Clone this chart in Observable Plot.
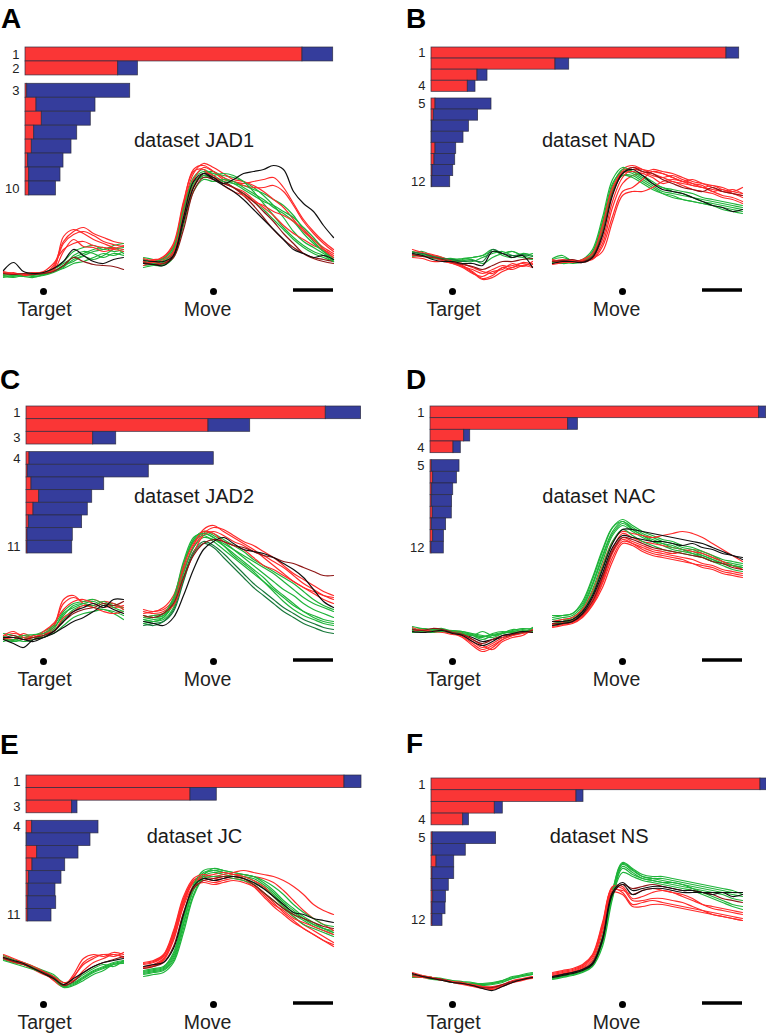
<!DOCTYPE html>
<html><head><meta charset="utf-8">
<script src="https://cdn.jsdelivr.net/npm/d3@7"></script>
<script src="https://cdn.jsdelivr.net/npm/@observablehq/plot@0.6"></script>
<style>
body{margin:0;background:#fff;}
#fig{position:relative;width:766px;height:1034px;overflow:hidden;font-family:"Liberation Sans",Arial,Helvetica,sans-serif;}
</style></head><body><div id="fig"></div>
<script>
// ---------- time grid (ms) ----------
const TARGET_T = [-200,-150,-100,-50,0,50,100,150,200,250,300,350,400];
const MOVE_T = [-350,-300,-250,-200,-150,-100,-50,0,50,100,150,200,250,300,350,400,450,500,550,600];
const EVENTS = ["Target","Move"];
const SCALEBAR_MS = [400, 600]; // 200 ms, in Move-aligned time
const GAP_MS = 100;

// ---------- panel names ----------
const LETTERS = ["A","B","C","D","E","F"];
const DATASETS = ["dataset JAD1","dataset NAD","dataset JAD2","dataset NAC","dataset JC","dataset NS"];

// ---------- variance per dimension (a.u.) : red = movement, blue = preparatory ----------
const A_red  = [277, 92.7, 1.7, 11, 16.3, 8.7, 6.3, 2.7, 3.7, 3.7];
const A_blue = [30.7, 19.7, 103, 59, 49, 43, 39.7, 35.3, 31.3, 26.7];
const B_red  = [295, 124, 46, 36.3, 4, 2.3, 0.7, 0.3, 4, 3, 1, 0.7];
const B_blue = [12.7, 13.7, 10, 7.7, 56, 44.3, 36.7, 31.7, 20.7, 20.7, 20.7, 18];
const C_red  = [299.3, 182, 66.7, 3, 1.3, 5, 12.7, 7, 2.3, 1, 1];
const C_blue = [35.3, 41.7, 23, 184.3, 121, 72.7, 53, 54.3, 53.3, 45.3, 44.7];
const D_red  = [328.7, 137.7, 33.7, 23, 1.3, 2.7, 1.7, 1.3, 2.3, 1.3, 2.7, 1];
const D_blue = [7, 9.7, 6, 7.3, 27.7, 23.7, 21, 20.3, 19, 14.3, 10.7, 12.3];
const E_red  = [318, 164, 45.7, 5.7, 0.3, 10.7, 6, 2.7, 2, 1.7, 1.7];
const E_blue = [17, 26.3, 5.3, 66.3, 63.7, 41.3, 32.7, 32.3, 27, 28, 23.3];
const F_red  = [329, 145, 63.3, 31.7, 1.3, 1.3, 5, 1, 1, 1.7, 1, 1];
const F_blue = [6.3, 7, 8, 5.7, 63.3, 33, 17.7, 21.7, 16.3, 12.7, 13, 10];
const N_MOVE_DIMS = [2, 4, 3, 4, 3, 4];

// ---------- projections (a.u.), colour key + values at TARGET_T / MOVE_T ----------
const A_target = [
 ["r","16 18 17 19 18 26 50 60 64 58 54 50 48"],
 ["g","19 18 16 18 19 23 30 40 44 46 42 46 48"],
 ["g","14 16 15 14 17 20 25 32 36 40 42 44 38"],
 ["g","16 15 17 16 18 22 28 34 38 42 44 40 42"],
 ["r","20 18 17 18 19 22 55 62 58 52 48 44 42"],
 ["g","18 17 15 17 17 20 26 30 35 32 36 42 44"],
 ["r","19 17 18 19 18 24 48 57 60 56 50 47 45"],
 ["g","15 14 16 15 16 19 24 36 40 38 34 38 36"],
 ["r","17 19 16 18 20 28 42 48 50 46 44 43 46"],
 ["g","17 16 17 18 17 21 23 28 30 34 38 36 40"],
 ["r","18 18 17 17 19 21 40 52 45 44 40 42 40"],
 ["R","18 17 18 17 18 20 26 34 30 27 26 25 22"],
 ["k","21 29 20 18 19 23 30 42 36 30 28 32 34"]];
const A_move = [
 ["r","32 30 34 46 88 122 126 120 112 110 108 110 112 114 104 88 72 60 50 42"],
 ["g","28 30 27 40 78 108 118 120 114 108 106 102 98 92 86 76 62 50 40 32"],
 ["g","34 32 30 42 84 114 122 116 110 104 98 90 82 72 62 52 44 38 34 30"],
 ["R","30 28 29 38 72 104 116 114 110 104 96 86 74 62 52 44 38 34 32 30"],
 ["g","30 28 31 42 80 112 120 118 116 114 110 104 96 86 74 60 50 44 38 32"],
 ["r","30 32 33 45 85 118 128 124 118 112 110 106 100 92 84 72 60 52 44 38"],
 ["g","26 27 29 36 72 106 116 112 110 108 102 96 90 86 80 74 64 54 42 30"],
 ["r","28 30 32 40 78 112 124 120 114 110 106 104 104 106 100 86 70 58 48 40"],
 ["g","32 30 33 44 82 110 114 116 118 116 110 100 88 76 64 54 46 40 36 30"],
 ["r","33 31 35 48 90 120 122 112 108 104 100 92 84 76 66 58 52 46 42 36"],
 ["g","24 26 26 34 66 100 112 110 112 110 104 98 92 84 78 70 58 48 40 34"],
 ["r","26 29 28 38 70 105 118 116 106 100 96 90 86 80 76 70 62 52 42 34"],
 ["R","29 27 28 34 62 100 114 112 108 104 98 90 80 70 58 48 38 33 30 28"],
 ["k","28 27 26 36 74 110 118 112 106 100 92 82 72 62 52 42 38 34 36 32"],
 ["k","31 30 30 36 70 104 118 114 108 112 118 120 122 126 122 100 88 80 66 54"]];
const B_target = [
 ["r","38 36 35 32 29 25 19 12 14 20 24 26 24"],
 ["g","36 38 35 33 32 33 34 36 40 38 40 36 33"],
 ["g","38 40 36 34 31 32 34 36 42 36 34 38 36"],
 ["r","40 38 36 33 30 26 20 13 16 24 26 28 25"],
 ["g","35 36 33 32 30 30 30 34 38 40 36 34 32"],
 ["r","36 35 34 31 28 24 18 15 20 22 28 25 30"],
 ["g","40 37 35 33 33 31 32 28 34 38 40 36 38"],
 ["r","42 39 37 34 30 28 24 20 18 24 22 26 28"],
 ["G","39 38 35 33 32 30 31 30 42 38 36 37 35"],
 ["r","34 33 30 30 28 25 22 18 22 26 24 29 27"],
 ["R","37 35 34 32 29 27 25 22 26 30 30 32 33"],
 ["k","38 36 32 30 30 28 28 26 40 38 34 36 24"]];
const B_move = [
 ["r","29 31 30 29 33 48 84 108 116 118 122 120 118 114 110 108 106 104 100 98"],
 ["g","31 30 29 32 38 64 102 116 116 110 104 98 94 92 90 88 86 82 80 78"],
 ["r","30 28 31 30 36 62 102 122 126 122 118 114 110 108 106 104 102 100 98 94"],
 ["g","32 34 31 30 39 68 106 122 120 116 110 104 102 100 98 94 92 90 88 86"],
 ["g","33 36 30 31 40 70 108 120 118 112 106 100 98 96 94 92 90 88 86 84"],
 ["r","30 32 30 31 36 60 100 120 124 122 120 118 114 110 108 104 106 102 100 104"],
 ["g","29 31 28 30 36 60 100 116 114 108 102 98 96 92 90 88 86 84 82 80"],
 ["r","28 30 31 30 34 52 90 114 122 120 116 114 116 112 108 106 100 102 98 96"],
 ["g","30 28 29 32 42 74 112 124 120 114 108 104 100 98 94 90 88 86 84 82"],
 ["r","32 30 29 31 32 45 75 100 104 112 120 118 114 110 112 108 104 100 102 98"],
 ["r","27 29 31 30 33 40 70 96 100 100 104 110 112 110 106 104 100 96 94 90"],
 ["r","31 29 30 32 38 66 104 118 120 118 114 108 110 106 102 100 98 94 92 88"],
 ["R","30 31 32 30 35 58 98 118 124 120 118 112 108 104 102 100 104 100 98 96"],
 ["k","28 30 30 29 34 56 96 118 122 116 108 102 100 98 94 90 86 84 80 82"]];
const C_target = [
 ["r","25 28 26 24 28 36 58 64 60 62 58 54 56"],
 ["g","23 21 24 22 26 32 48 54 58 60 56 58 52"],
 ["g","28 26 24 26 30 36 50 58 60 62 58 56 54"],
 ["r","26 30 24 22 26 34 62 66 58 56 60 58 54"],
 ["g","22 20 22 24 24 30 42 52 56 54 52 50 46"],
 ["r","24 22 28 24 30 38 52 60 62 58 54 56 52"],
 ["g","20 22 20 22 26 28 36 44 48 50 52 48 42"],
 ["r","22 24 22 26 28 30 44 50 56 54 50 48 50"],
 ["g","25 24 26 27 28 34 46 56 58 56 60 54 50"],
 ["R","23 26 22 24 26 30 40 48 52 54 58 56 60"],
 ["k","24 24 22 20 24 28 34 40 44 50 56 52 48"],
 ["k","22 18 14 22 24 30 40 50 54 58 54 62 62"]];
const C_move = [
 ["r","50 48 50 60 90 114 128 134 132 126 120 116 110 104 96 88 82 76 70 66"],
 ["g","42 40 44 58 94 120 128 124 116 106 98 90 80 70 60 52 46 42 38 36"],
 ["g","46 44 46 60 96 122 130 128 122 116 110 102 96 90 84 78 70 62 56 52"],
 ["G","38 36 40 52 84 110 120 116 108 98 88 78 70 62 54 48 42 38 34 32"],
 ["g","40 42 44 60 96 122 130 126 120 112 104 96 88 80 72 66 58 52 48 44"],
 ["r","48 50 52 62 92 116 132 136 130 124 118 112 104 96 88 80 74 68 62 58"],
 ["g","38 40 42 54 88 114 124 122 116 108 100 92 84 74 66 58 50 46 42 40"],
 ["r","44 46 48 56 82 108 126 130 126 120 116 110 106 100 94 86 78 72 66 62"],
 ["g","42 44 46 62 98 120 126 120 112 104 96 88 80 72 64 56 50 44 40 38"],
 ["r","52 50 54 66 96 118 130 128 120 116 112 104 96 92 86 80 74 70 66 64"],
 ["g","44 46 48 64 100 124 128 124 118 112 106 100 94 88 80 72 64 58 54 50"],
 ["G","36 38 40 50 80 108 118 114 104 94 84 74 66 58 50 44 38 34 30 28"],
 ["R","46 44 48 58 84 106 118 122 120 116 114 110 106 104 100 98 94 90 86 86"],
 ["k","40 38 36 44 66 92 112 120 124 118 112 110 108 104 98 92 84 72 60 54"]];
const D_target = [
 ["r","31 33 31 30 29 25 18 12 16 22 26 29 31"],
 ["g","32 30 31 31 31 29 27 25 27 29 31 33 32"],
 ["k","29 30 31 30 29 27 24 20 22 24 27 30 30"],
 ["g","33 31 32 33 30 30 26 22 26 28 30 32 33"],
 ["r","32 30 31 30 28 24 16 10 14 22 26 28 30"],
 ["g","29 30 29 30 29 28 26 24 28 30 29 30 31"],
 ["r","30 32 30 29 27 26 20 14 18 24 28 30 29"],
 ["g","31 33 31 30 31 30 28 26 24 28 32 31 30"],
 ["r","34 31 32 31 30 28 22 16 12 20 24 26 32"],
 ["g","35 33 32 32 30 28 26 30 26 28 30 29 34"],
 ["R","32 31 33 32 29 27 22 18 22 26 27 29 31"],
 ["k","30 29 30 31 28 26 20 16 20 26 28 30 29"]];
const D_move = [
 ["g","40 42 44 54 76 104 128 138 132 126 122 118 116 112 110 106 102 98 96 94"],
 ["r","37 39 41 47 60 82 110 124 120 116 112 110 108 110 112 110 106 100 96 92"],
 ["g","46 46 48 60 84 112 134 140 132 126 120 116 112 110 108 104 100 98 96 94"],
 ["r","35 37 39 45 57 78 104 120 118 114 110 108 106 104 102 98 96 92 90 88"],
 ["g","42 44 46 56 78 106 130 140 134 128 124 120 118 114 112 108 104 100 98 96"],
 ["r","38 40 42 48 62 86 112 128 124 120 118 116 114 112 110 108 104 100 96 92"],
 ["g","38 40 44 52 72 100 126 136 130 124 120 118 114 112 108 106 102 98 96 94"],
 ["r","36 38 40 46 58 80 108 122 118 112 108 106 104 102 98 96 94 90 88 86"],
 ["g","44 46 48 58 82 110 134 142 136 130 126 122 120 116 114 110 106 102 100 98"],
 ["r","40 42 44 52 70 96 120 130 128 126 124 126 128 130 128 124 118 112 106 100"],
 ["g","36 38 42 50 68 94 120 132 126 120 116 112 110 108 106 104 100 96 92 90"],
 ["r","34 36 38 44 56 74 100 118 116 110 106 104 102 100 98 94 92 88 86 84"],
 ["R","38 38 40 47 60 84 110 124 122 118 114 112 110 108 106 104 100 98 94 92"],
 ["k","40 40 42 50 66 92 118 132 132 130 128 126 124 122 120 118 114 110 106 104"],
 ["k","36 38 40 48 64 88 114 126 124 122 120 120 118 116 118 114 112 108 106 102"]];
const E_target = [
 ["r","47 43 41 36 31 25 19 27 42 48 50 50 48"],
 ["g","46 43 41 37 33 28 19 21 27 33 37 41 43"],
 ["g","47 44 41 37 33 28 20 22 28 34 38 42 44"],
 ["r","48 44 40 36 32 24 18 30 46 50 48 52 50"],
 ["g","45 42 40 36 32 26 18 20 26 32 36 40 42"],
 ["r","46 42 40 35 30 26 20 28 40 46 50 48 52"],
 ["g","49 45 42 38 34 30 22 24 30 36 40 38 44"],
 ["r","50 46 42 38 33 28 22 24 34 42 46 50 47"],
 ["g","44 41 38 35 31 26 17 19 24 30 34 40 41"],
 ["R","46 43 40 36 32 27 19 23 32 38 42 45 48"],
 ["k","47 44 41 36 31 26 20 26 32 38 42 44 46"]];
const E_move = [
 ["r","37 39 45 68 102 122 124 122 124 126 124 118 108 98 90 82 76 70 64 60"],
 ["g","31 33 35 46 80 114 130 134 132 130 128 126 120 112 102 94 86 80 76 74"],
 ["g","33 35 37 50 86 118 132 134 132 130 128 124 118 110 100 92 86 80 76 72"],
 ["r","41 43 49 72 106 124 128 126 128 130 130 128 126 122 114 104 94 86 80 74"],
 ["g","32 34 36 48 82 116 130 136 134 132 130 128 122 114 104 96 88 82 76 72"],
 ["r","40 42 48 70 104 124 128 130 132 130 128 124 118 108 98 88 80 74 68 62"],
 ["g","30 32 34 44 76 110 128 132 130 128 126 122 116 108 98 90 84 78 74 70"],
 ["r","36 38 44 64 100 122 126 124 126 128 126 120 112 102 92 84 76 70 64 58"],
 ["g","34 36 38 52 88 120 134 136 134 132 130 128 124 118 110 100 92 86 80 78"],
 ["r","42 44 50 74 108 126 130 128 130 132 134 132 130 128 124 118 110 100 94 90"],
 ["g","28 30 32 42 72 108 126 128 128 126 124 120 112 104 96 88 80 76 72 68"],
 ["r","38 40 46 66 98 118 122 120 122 124 122 118 110 100 94 86 82 78 74 70"],
 ["R","36 38 42 58 92 116 124 126 128 128 126 120 112 104 96 90 86 82 78 76"],
 ["k","38 40 42 56 90 118 126 124 126 128 126 122 116 108 100 92 90 86 84 82"]];
const F_target = [
 ["g","28 29 26 25 23 21 20 19 20 22 26 29 31"],
 ["r","29 28 27 25 23 21 19 18 17 19 22 25 28"],
 ["g","30 28 27 26 24 23 22 20 21 24 28 29 30"],
 ["g","29 28 27 25 23 22 21 21 22 24 27 30 32"],
 ["r","30 28 26 25 22 20 18 16 15 18 22 24 27"],
 ["g","27 27 25 24 22 22 20 20 21 23 26 28 30"],
 ["r","28 27 26 24 22 21 20 18 18 20 24 26 28"],
 ["r","32 29 27 25 23 22 19 17 16 19 23 25 26"],
 ["R","30 28 26 25 22 21 19 17 17 20 23 25 27"],
 ["k","31 28 26 24 22 21 19 16 14 18 22 25 27"]];
const F_move = [
 ["g","26 28 30 33 40 62 110 138 132 126 124 122 120 118 116 114 112 110 106 104"],
 ["r","31 33 35 39 49 80 117 116 104 104 106 106 104 102 98 94 90 88 86 84"],
 ["g","27 29 31 34 41 66 113 141 135 128 126 126 124 122 120 118 116 114 112 112"],
 ["g","27 29 31 34 40 64 112 140 134 128 126 124 122 120 118 116 114 112 110 108"],
 ["r","30 32 34 38 48 78 116 112 100 102 104 102 100 98 96 94 92 90 88 86"],
 ["g","25 27 29 32 38 58 106 136 130 126 124 122 122 120 116 112 108 104 100 98"],
 ["r","28 30 32 36 44 72 112 110 98 98 100 100 98 96 94 92 90 88 86 84"],
 ["g","28 30 32 35 42 68 114 142 136 130 128 128 126 124 122 120 118 116 114 110"],
 ["r","32 34 36 40 50 82 118 118 106 108 112 114 112 110 106 100 96 94 92 90"],
 ["g","26 28 30 33 39 62 108 132 128 124 122 120 118 116 114 110 106 102 98 95"],
 ["r","29 31 33 37 46 76 114 114 110 114 116 114 112 108 104 100 98 96 94 92"],
 ["R","28 30 32 35 42 66 112 120 116 118 120 118 116 114 114 112 110 106 104 102"],
 ["k","28 30 32 35 41 66 112 122 114 116 118 118 116 114 114 112 112 112 112 112"],
 ["k","27 29 31 34 40 64 110 120 110 114 116 116 114 112 112 112 110 112 108 110"]];

const BARS = [[A_red,A_blue],[B_red,B_blue],[C_red,C_blue],[D_red,D_blue],[E_red,E_blue],[F_red,F_blue]];
const TRACES = [[A_target,A_move],[B_target,B_move],[C_target,C_move],[D_target,D_move],[E_target,E_move],[F_target,F_move]];

// ---------- styling / layout (not data) ----------
const RED = "#fa3636", BLUE = "#353d9c";
const COLORS = {r:"#ff2a2a", g:"#1fb43a", k:"#101010", R:"#8e1616", G:"#17783a"};
const PX_PER_MS = 0.2;
const GAP_ROWS = 0.6;
const LAYOUT = [
 {letter:[1,28.3],  name:[134,146.7],   bar:{left:24.7, top:47,    bottom:195},   trace:{left:3,     dotY:291}},
 {letter:[406,28.3],name:[542,146.7],   bar:{left:431.3,top:47,    bottom:186.7}, trace:{left:412.3, dotY:291}},
 {letter:[0,389],   name:[134,502.7],   bar:{left:26.3, top:405.7, bottom:552.7}, trace:{left:2.7,   dotY:661}},
 {letter:[406,388.5],name:[542.3,503.3],bar:{left:430.3,top:406.3, bottom:553.3}, trace:{left:412.3, dotY:661}},
 {letter:[0,754],   name:[146.7,842.7], bar:{left:26.3, top:775,   bottom:921},   trace:{left:2.7,   dotY:1004}},
 {letter:[406,753.3],name:[549.7,843.3],bar:{left:430.7,top:778.3, bottom:925.7}, trace:{left:412.3, dotY:1004}}
];
const FONT = "'Liberation Sans', Arial, Helvetica, sans-serif";
const fig = document.getElementById("fig");

function place(el, left, top) {
  el.style.position = "absolute";
  el.style.left = left + "px";
  el.style.top = top + "px";
  el.style.overflow = "visible";
  el.style.maxWidth = "none";
  el.style.fontFamily = FONT;
  fig.appendChild(el);
}

// overlay for panel letters and dataset names
const over = d3.select(fig).append("svg").attr("width",766).attr("height",1034)
  .style("position","absolute").style("left","0px").style("top","0px").style("font-family",FONT);

LAYOUT.forEach((L, p) => {
  over.append("text").attr("x",L.letter[0]).attr("y",L.letter[1]).attr("font-size",28).attr("font-weight","bold").attr("fill","#000").text(LETTERS[p]);
  over.append("text").attr("x",L.name[0]).attr("y",L.name[1]).attr("font-size",20).attr("fill","#1a1a1a").text(DATASETS[p]);

  // ---- bar chart ----
  const [red, blue] = BARS[p];
  const nMove = N_MOVE_DIMS[p];
  const n = red.length;
  const rows = red.map((r, i) => ({rank: i + 1, red: r, blue: blue[i], y1: i + (i >= nMove ? GAP_ROWS : 0)}));
  const segs = rows.flatMap(d => [
    {kind:"movement", x1:0, x2:d.red, y1:d.y1, y2:d.y1 + 1},
    {kind:"preparatory", x1:d.red, x2:d.red + d.blue, y1:d.y1, y2:d.y1 + 1}]);
  const labelRanks = [1, nMove, nMove + 1, n];
  const labels = rows.filter(d => labelRanks.includes(d.rank));
  const maxT = d3.max(rows, d => d.red + d.blue);
  const ML = 30, B = L.bar, H = B.bottom - B.top;
  const bar = Plot.plot({
    width: ML + maxT + 2, height: H + 2,
    marginLeft: ML, marginRight: 2, marginTop: 1, marginBottom: 1,
    x: {domain: [0, maxT], range: [ML, ML + maxT], axis: null},
    y: {domain: [0, n + GAP_ROWS], range: [1, H + 1], axis: null},
    color: {domain: ["movement","preparatory"], range: [RED, BLUE]},
    marks: [
      Plot.rect(segs, {x1:"x1", x2:"x2", y1:"y1", y2:"y2", fill:"kind", stroke:"#2a2a40", strokeWidth:0.8, strokeOpacity:0.85}),
      Plot.text(labels, {x: 0, y: d => d.y1 + 0.5, text: d => String(d.rank), textAnchor: "end", dx: -6, fontSize: 13, fill: "#222"})
    ]
  });
  place(bar, B.left - ML, B.top - 1);

  // ---- projections ----
  const TARGET_WIN = [TARGET_T[0], TARGET_T[TARGET_T.length - 1]];
  const MOVE_WIN = [MOVE_T[0], MOVE_T[MOVE_T.length - 1]];
  const OFFSET = TARGET_WIN[1] + GAP_MS - MOVE_WIN[0];
  const [tgt, mov] = TRACES[p];
  const toRows = (traces, times, seg, off) => traces.flatMap(([c, s], k) =>
    s.trim().split(/\s+/).map((v, i) => ({id: seg + k, c, x: times[i] + off, y: +v})));
  const lines = [...toRows(tgt, TARGET_T, "t", 0), ...toRows(mov, MOVE_T, "m", OFFSET)];
  const events = EVENTS.map((label, i) => ({label, x: i === 0 ? 0 : OFFSET}));
  const T = L.trace, YMAX = 145, MT = 3, MB = 32, MX = 5;
  const W = (MOVE_WIN[1] + OFFSET - TARGET_WIN[0]) * PX_PER_MS;
  const tr = Plot.plot({
    width: W + 2 * MX, height: YMAX + MT + MB,
    marginLeft: MX, marginRight: MX, marginTop: MT, marginBottom: MB,
    x: {domain: [TARGET_WIN[0], MOVE_WIN[1] + OFFSET], axis: null},
    y: {domain: [0, YMAX], axis: null},
    color: {type: "identity"},
    marks: [
      Plot.line(lines, {x: "x", y: "y", z: "id", stroke: d => COLORS[d.c], strokeWidth: 1.2, curve: "catmull-rom"}),
      Plot.dot(events, {x: "x", frameAnchor: "bottom", r: 3.5, fill: "black"}),
      Plot.text(events.filter(e => e.label === "Target"), {x: "x", text: "label", frameAnchor: "bottom", dy: 24.7, dx: 1, lineAnchor: "bottom", fontSize: 19.5, fill: "#222"}),
      Plot.text(events.filter(e => e.label === "Move"), {x: "x", text: "label", frameAnchor: "bottom", dy: 24.7, dx: -6, lineAnchor: "bottom", fontSize: 19.5, fill: "#222"}),
      Plot.ruleY([0], {x1: SCALEBAR_MS[0] + OFFSET, x2: SCALEBAR_MS[1] + OFFSET, stroke: "black", strokeWidth: 3.5, dy: -1.5})
    ]
  });
  place(tr, T.left - MX, T.dotY - YMAX - MT);
});
</script></body></html>
